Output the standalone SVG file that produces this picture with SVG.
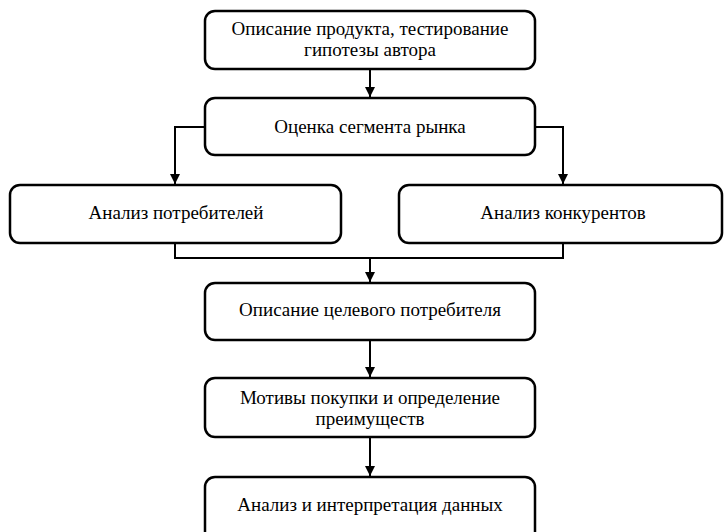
<svg xmlns="http://www.w3.org/2000/svg" width="724" height="532" viewBox="0 0 724 532">
<style>
.box{fill:#fff;stroke:#000;stroke-width:2.5}
.c{fill:none;stroke:#000;stroke-width:2}
.t{font-family:"Liberation Serif","Times New Roman",serif;font-size:19px;fill:#000;text-anchor:middle}
</style>
<defs>
<marker id="ah" markerWidth="10" markerHeight="10" refX="10" refY="5" orient="auto" markerUnits="userSpaceOnUse" viewBox="0 0 10 10">
<path d="M0,0 L10,5 L0,10 Z" fill="#000"/>
</marker>
</defs>
<rect width="724" height="532" fill="#fff"/>
<g id="connectors">
<path class="c" d="M370,69 V97" marker-end="url(#ah)"/>
<path class="c" d="M205,127 H175 V184" marker-end="url(#ah)"/>
<path class="c" d="M535,127 H563 V184" marker-end="url(#ah)"/>
<path class="c" d="M175,243 V258 H563 V243"/>
<path class="c" d="M370,258 V282" marker-end="url(#ah)"/>
<path class="c" d="M370,340 V377" marker-end="url(#ah)"/>
<path class="c" d="M370,437 V476" marker-end="url(#ah)"/>
</g>
<g id="n1"><rect class="box" x="205" y="11" width="330" height="58" rx="10"/>
<text class="t" x="370" y="35">Описание продукта, тестирование</text>
<text class="t" x="370" y="56">гипотезы автора</text></g>
<g id="n2"><rect class="box" x="205" y="98" width="330" height="57" rx="10"/>
<text class="t" x="370" y="133">Оценка сегмента рынка</text></g>
<g id="n3"><rect class="box" x="10" y="185" width="331" height="58" rx="10"/>
<text class="t" x="176" y="219">Анализ потребителей</text></g>
<g id="n4"><rect class="box" x="399" y="185" width="323" height="58" rx="10"/>
<text class="t" x="563" y="219">Анализ конкурентов</text></g>
<g id="n5"><rect class="box" x="205" y="283" width="330" height="57" rx="10"/>
<text class="t" x="370" y="316">Описание целевого потребителя</text></g>
<g id="n6"><rect class="box" x="205" y="378" width="330" height="59" rx="10"/>
<text class="t" x="370" y="404">Мотивы покупки и определение</text>
<text class="t" x="370" y="425">преимуществ</text></g>
<g id="n7"><rect class="box" x="205" y="477" width="330" height="70" rx="10"/>
<text class="t" x="370" y="511">Анализ и интерпретация данных</text></g>
</svg>
